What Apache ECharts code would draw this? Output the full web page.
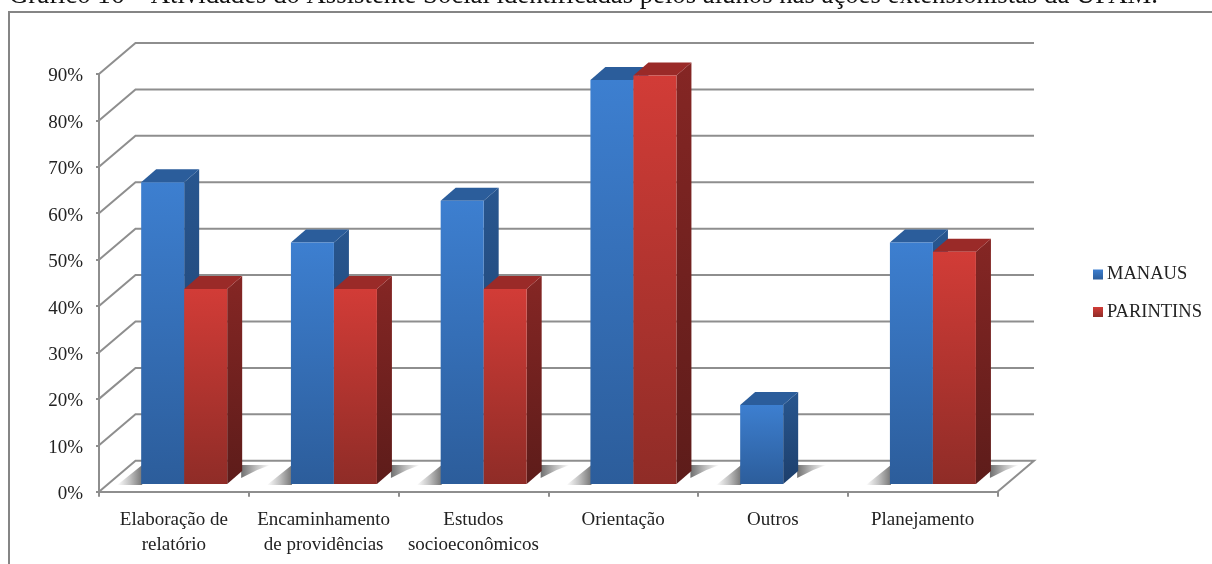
<!DOCTYPE html>
<html lang="pt">
<head>
<meta charset="utf-8">
<title>Atividades do Assistente Social</title>
<style>
  html, body { margin: 0; padding: 0; background: #fff; }
  #chart { width: 1212px; height: 564px; }
</style>
<script src="https://cdn.jsdelivr.net/npm/echarts@6/dist/echarts.min.js"></script>
</head>
<body>
<div id="chart"></div>
<script>
// Percentual de respostas por atividade, em cada campus
const categories = [
  'Elaboração de\nrelatório',
  'Encaminhamento\nde providências',
  'Estudos\nsocioeconômicos',
  'Orientação',
  'Outros',
  'Planejamento'
];
const manaus = [65, 52, 61, 87, 17, 52];
const parintins = [42, 42, 42, 88, null, 50];
const yTicks = [0, 10, 20, 30, 40, 50, 60, 70, 80, 90];

const FONT = '"Liberation Serif", "Times New Roman", serif';
const GRID_COLOR = '#8e8e8e';
const TEXT_COLOR = '#222222';

// Projeção oblíqua: deslocamento da parede de fundo e da profundidade das barras
const WALL_DX = 36.5, WALL_DY = -31;
const BAR_DX = 15, BAR_DY = -13;
const BAR_SHIFT_X = 10.3, BAR_SHIFT_Y = -7.8;
const BAR_WIDTH_RATIO = 43 / 149.75;

const grad = (a, b) => new echarts.graphic.LinearGradient(0, 0, 0, 1, [
  { offset: 0, color: a }, { offset: 1, color: b }
]);
const gradX = (a, b, c) => new echarts.graphic.LinearGradient(0, 0, 1, 0, [
  { offset: 0, color: a }, { offset: 0.5, color: b }, { offset: 1, color: c }
]);

const BLUE = { front: ['#3d7fd0', '#2c5d9b'], side: ['#28568f', '#1d3f6c'], top: '#2b5d9b' };
const RED = { front: ['#d23c37', '#8f2c27'], side: ['#852624', '#5d1c1a'], top: '#9a2a28' };

// Caixa 3D de uma barra; slot 0 fica à esquerda, 1 à direita do centro
function boxRenderer(palette, slot) {
  return function (params, api) {
    const value = api.value(1);
    if (value == null || isNaN(value)) return null;
    const band = api.size([1, 0])[0];
    const w = band * BAR_WIDTH_RATIO;
    const top = api.coord([api.value(0), value]);
    const base = api.coord([api.value(0), 0]);
    const x0 = top[0] + BAR_SHIFT_X + (slot - 1) * w;
    const x1 = x0 + w;
    const yTop = top[1] + BAR_SHIFT_Y;
    const yBase = base[1] + BAR_SHIFT_Y;
    return {
      type: 'group',
      children: [
        {
          type: 'polygon',
          shape: { points: [[x1, yTop], [x1 + BAR_DX, yTop + BAR_DY], [x1 + BAR_DX, yBase + BAR_DY], [x1, yBase]] },
          style: { fill: grad(palette.side[0], palette.side[1]) }
        },
        {
          type: 'polygon',
          shape: { points: [[x0, yTop], [x0 + BAR_DX, yTop + BAR_DY], [x1 + BAR_DX, yTop + BAR_DY], [x1, yTop]] },
          style: { fill: palette.top }
        },
        {
          type: 'rect',
          shape: { x: x0, y: yTop, width: w, height: yBase - yTop },
          style: { fill: grad(palette.front[0], palette.front[1]) }
        }
      ]
    };
  };
}

// Linhas da grade: diagonal lateral e linha horizontal na parede de fundo
function wallRenderer(params, api) {
  const value = api.value(0);
  const left = api.coord([0, value]);
  const width = api.size([1, 0])[0] * categories.length;
  const x0 = left[0] - api.size([1, 0])[0] / 2;
  const y = left[1];
  const points = [[x0, y], [x0 + WALL_DX, y + WALL_DY], [x0 + width + WALL_DX, y + WALL_DY]];
  if (value === 0) points.push([x0 + width, y]);
  return {
    type: 'polyline',
    shape: { points },
    style: { fill: null, stroke: GRID_COLOR, lineWidth: 2 }
  };
}

// Sombra projetada no piso, dos dois lados do conjunto de barras
function shadowRenderer(params, api) {
  const index = api.value(0);
  const band = api.size([1, 0])[0];
  const w = band * BAR_WIDTH_RATIO;
  const base = api.coord([index, 0]);
  const count = api.value(1);
  const xL = base[0] + BAR_SHIFT_X - w;
  const xR = xL + w * count;
  const y = base[1] + BAR_SHIFT_Y;
  return {
    type: 'group',
    children: [
      {
        type: 'polygon',
        shape: { points: [[xL - 24, y + 1], [xL + 1, y + 1], [xL + 1, y - 19]] },
        style: { fill: gradX('#ffffff', '#c2c2c2', '#767676') }
      },
      {
        type: 'polygon',
        shape: { points: [[xR + BAR_DX - 1, y + BAR_DY + 7], [xR + BAR_DX - 1, y - 19], [xR + BAR_DX + 28, y - 19], [xR + BAR_DX + 15, y - 14]] },
        style: { fill: gradX('#707070', '#bdbdbd', '#ffffff') }
      }
    ]
  };
}

const chart = echarts.init(document.getElementById('chart'), null, { renderer: 'canvas' });

chart.setOption({
  animation: false,
  backgroundColor: '#ffffff',
  title: {
    text: 'Gráfico 16 – Atividades do Assistente Social identificadas pelos alunos nas ações extensionistas da UFAM.',
    left: 9,
    top: -18,
    padding: 0,
    textStyle: { fontFamily: FONT, fontSize: 26.73, fontWeight: 'normal', color: '#111111' }
  },
  graphic: [{
    type: 'polyline',
    silent: true,
    shape: { points: [[9, 564], [9, 12], [1212, 12]] },
    style: { fill: null, stroke: '#858585', lineWidth: 2 }
  }],
  legend: {
    orient: 'vertical',
    left: 1093,
    top: 265,
    icon: 'rect',
    itemWidth: 10,
    itemHeight: 10,
    itemGap: 18.5,
    padding: 0,
    data: ['MANAUS', 'PARINTINS'],
    textStyle: { fontFamily: FONT, fontSize: 18.5, color: TEXT_COLOR, padding: [0, 0, 0, -1] }
  },
  grid: { left: 99, top: 74, width: 898.5, height: 417.7 },
  xAxis: {
    type: 'category',
    data: categories,
    axisLine: { lineStyle: { color: GRID_COLOR, width: 2 } },
    axisTick: { show: true, length: 5, alignWithLabel: false, lineStyle: { color: GRID_COLOR, width: 2 } },
    axisLabel: {
      interval: 0,
      margin: 16,
      lineHeight: 25,
      fontFamily: FONT,
      fontSize: 19,
      color: TEXT_COLOR
    }
  },
  yAxis: {
    type: 'value',
    min: 0,
    max: 90,
    interval: 10,
    axisLine: { show: true, lineStyle: { color: GRID_COLOR, width: 2 } },
    axisTick: { show: true, length: 3, lineStyle: { color: GRID_COLOR, width: 2 } },
    splitLine: { show: false },
    axisLabel: {
      formatter: '{value}%',
      margin: 16,
      verticalAlign: 'top',
      padding: [-7, 0, 0, 0],
      fontFamily: FONT,
      fontSize: 19,
      color: TEXT_COLOR
    }
  },
  series: [
    {
      type: 'custom',
      name: 'grade',
      silent: true,
      z: 1,
      renderItem: wallRenderer,
      encode: { y: 0 },
      data: yTicks.map(t => [t])
    },
    {
      type: 'custom',
      name: 'sombra',
      silent: true,
      z: 2,
      renderItem: shadowRenderer,
      encode: { x: 0 },
      data: categories.map((c, i) => [i, parintins[i] == null ? 1 : 2])
    },
    {
      type: 'custom',
      name: 'MANAUS',
      z: 3,
      itemStyle: { color: grad(BLUE.front[0], BLUE.front[1]) },
      renderItem: boxRenderer(BLUE, 0),
      encode: { x: 0, y: 1 },
      data: manaus.map((v, i) => [i, v])
    },
    {
      type: 'custom',
      name: 'PARINTINS',
      z: 4,
      itemStyle: { color: grad(RED.front[0], RED.front[1]) },
      renderItem: boxRenderer(RED, 1),
      encode: { x: 0, y: 1 },
      data: parintins.map((v, i) => [i, v])
    }
  ]
});
</script>
</body>
</html>
